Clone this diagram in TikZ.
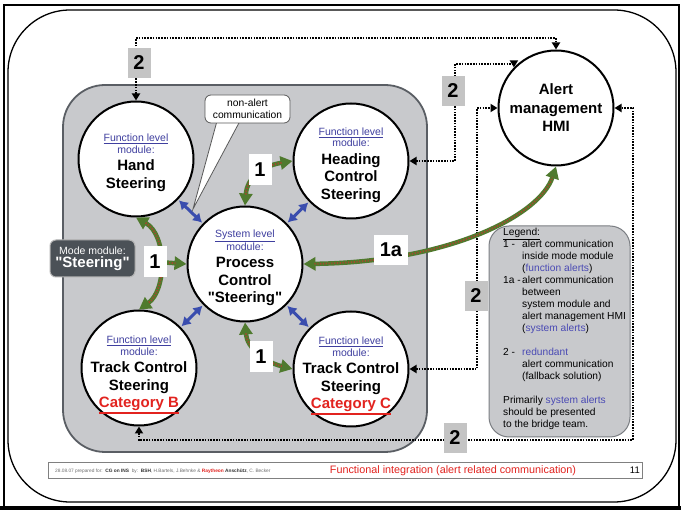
\documentclass[tikz,border=0pt]{standalone}
\usepackage{fontspec}
\setmainfont{Liberation Sans}
\newfontfamily\plainsf{Liberation Sans}
\usetikzlibrary{arrows.meta}
\definecolor{modgray}{HTML}{C8C9CC}
\definecolor{modedge}{HTML}{5A5E64}
\definecolor{boxgray}{HTML}{C4C4C4}
\definecolor{blutxt}{HTML}{3F3F9F}
\definecolor{legblu}{HTML}{4A4AB4}
\definecolor{bluarr}{HTML}{3A4DAE}
\definecolor{catred}{HTML}{E2231F}
\definecolor{grn}{HTML}{4F7A2E}
\definecolor{rdd}{HTML}{A8472C}
\definecolor{darkbox}{HTML}{4B5157}
\definecolor{footgray}{HTML}{6E6E6E}
\newcommand{\qq}{{\plainsf\char34}}
\newcommand{\catul}[1]{\leavevmode\vtop{\hbox{#1}\kern1.3pt\hrule height1.4pt}}
\newcommand{\modtxt}[3]{\begin{minipage}{104pt}\centering\fontsize{10.5}{11.5}\selectfont\color{blutxt}\underline{#1}\\module:\par\fontsize{15}{17.5}\selectfont\bfseries\color{black}#2#3\end{minipage}}
\tikzset{gt/.tip={Triangle[length=12pt,width=13pt]}}
\begin{document}
\begin{tikzpicture}[x=1pt,y=-1pt,
  mod/.style={circle,draw=black,line width=2pt,fill=white,minimum size=115pt,inner sep=0pt},
  modt/.style={inner sep=0pt,yshift=-4pt},
  gline/.style={line width=4.5pt,draw=grn,postaction={draw=rdd,line width=1.8pt,dash pattern=on 1.2pt off 1.6pt,-,shorten <=11pt,shorten >=11pt}},
  bline/.style={line width=3pt,draw=bluarr,{Latex[length=9pt,width=11pt]}-{Latex[length=9pt,width=11pt]},shorten <=1pt,shorten >=1pt},
  dline/.style={line width=1.8pt,dash pattern=on 1.5pt off 1.3pt,{Triangle[length=7pt,width=8pt]}-{Triangle[length=7pt,width=8pt]}},
  one/.style={fill=white,inner sep=0pt,minimum width=23pt,minimum height=31pt,font=\fontsize{20}{20}\selectfont\bfseries},
  two/.style={fill=boxgray,inner sep=0pt,minimum width=23pt,minimum height=30pt,font=\fontsize{20}{20}\selectfont\bfseries}
]
\useasboundingbox (0,0) rectangle (681,510);
\fill[white] (0,0) rectangle (681,510);
\draw[line width=2.4pt] (4,5) rectangle (679,507);
\fill[black] (0,506) rectangle (681,510);
\draw[line width=1.3pt,rounded corners=62pt] (8,10) rectangle (676,502);

% mode module area and legend box
\node[draw=modedge,line width=1.8pt,fill=modgray,rounded corners=42pt,minimum width=364pt,minimum height=367pt] (modrect) at (245,268.5) {};
\node[draw=modedge!80,line width=1pt,fill=modgray,rounded corners=20pt,minimum width=141pt,minimum height=211pt] (legend) at (559.5,331.5) {};
\node[draw=gray,line width=0.9pt,fill=white,minimum width=594pt,minimum height=16pt,inner sep=0pt] (footer) at (345,470) {};

% modules
\node[mod] (hand) at (136,159) {};
\node[mod] (heading) at (351,161) {};
\node[mod] (process) at (245,264) {};
\node[mod] (trackB) at (139,368) {};
\node[mod] (trackC) at (351,369) {};
\node[mod] (hmi) at (556,108) {};
\node[modt] (handtxt) at (hand) {\modtxt{Function level}{Hand\\Steering}{}};
\node[modt] (headingtxt) at (heading) {\modtxt{Function level}{Heading\\Control\\Steering}{}};
\node[modt] (processtxt) at (process) {\modtxt{System level}{Process\\Control\\\qq Steering\qq}{}};
\node[modt,yshift=-3pt] (trackBtxt) at (trackB) {\modtxt{Function level}{Track Control\\Steering}{\\\color{catred}\catul{Category B}}};
\node[modt,yshift=-3pt] (trackCtxt) at (trackC) {\modtxt{Function level}{Track Control\\Steering}{\\\color{catred}\catul{Category C}}};
\node[inner sep=0pt] (hmitxt) at (hmi) {\begin{minipage}{104pt}\centering\fontsize{15}{18.5}\selectfont\bfseries Alert\\management\\HMI\end{minipage}};

% blue non-alert links
\draw[bline] (hand) -- (process);
\draw[bline] (heading) -- (process);
\draw[bline] (trackB) -- (process);
\draw[bline] (trackC) -- (process);

% callout
\coordinate (nacl) at (217,121);
\coordinate (nacr) at (240,121);
\coordinate (nactip) at (193,209);
\filldraw[fill=white,draw=gray!70!black,line width=0.8pt] (nacl) -- (nactip) -- (nacr);
\node[draw=gray!70!black,line width=0.8pt,fill=white,rounded corners=6pt,minimum width=85pt,minimum height=28pt,inner sep=0pt,align=center,font=\fontsize{10.3}{12}\selectfont] (nac) at (247.5,109) {non-alert\\communication};

% mode module label
\node[draw=gray!60,line width=1pt,fill=darkbox,rounded corners=6pt,minimum width=85pt,minimum height=37pt,inner sep=0pt,align=center,text=white] (modelbl) at (92.5,258.5) {{\fontsize{10.5}{12}\selectfont Mode module:}\\[1pt]{\fontsize{15}{16}\selectfont\bfseries \qq Steering\qq}};

% redundant dotted links
\coordinate (d1) at (136,38);
\draw[dline] (hand.north) -- (d1) -| (hmi.north);
\coordinate (d2a) at (455,161);
\coordinate (d2b) at (455,64);
\draw[dline] (heading.east) -- (d2a) -- (d2b) -| (hmi.136);
\coordinate (d3) at (477,369);
\draw[dline] (trackC.east) -- (d3) |- (hmi.west);
\coordinate (d4) at (633,440);
\draw[dline] (trackB.south) |- (d4) |- (hmi.east);

% alert links
\coordinate (lb) at (158,262);
\draw[gline,gt-gt] (hand.south) .. controls (167,235) and (167,290) .. (trackB.north);
\draw[gline,-gt] (lb) -- (process.west);
\draw[gline,gt-gt] (process.north) .. controls (247,178) and (262,166) .. (heading.west);
\draw[gline,gt-gt] (process.south) .. controls (247,348) and (265,362) .. (trackC.west);
\draw[gline,gt-gt] (process.east) .. controls (450,262) and (540,215) .. (hmi.south);

% number labels
\node[one] (n1a) at (260,170) {1};
\node[one] (n1b) at (155,262) {1};
\node[one] (n1c) at (261,357) {1};
\node[one,minimum width=34pt,minimum height=30pt] (n1d) at (391,250) {1a};
\node[two] (n2a) at (139,63) {2};
\node[two] (n2b) at (453,91) {2};
\node[two] (n2c) at (476,296) {2};
\node[two] (n2d) at (455,438) {2};

% legend text
\node[anchor=north west,inner sep=0pt] (legtxt) at (503,228) {\begin{minipage}{128pt}\raggedright\fontsize{10.2}{12}\selectfont
\underline{Legend:}\\
\makebox[19pt][l]{1 -}alert communication\\
\hspace*{19pt}inside mode module\\
\hspace*{19pt}(\textcolor{legblu}{function alerts})\\
\makebox[19pt][l]{1a -}alert communication\\
\hspace*{19pt}between\\
\hspace*{19pt}system module and\\
\hspace*{19pt}alert management HMI\\
\hspace*{19pt}(\textcolor{legblu}{system alerts})\\[12pt]
\makebox[19pt][l]{2 -}\textcolor{legblu}{redundant}\\
\hspace*{19pt}alert communication\\
\hspace*{19pt}(fallback solution)\\[12pt]
Primarily \textcolor{legblu}{system alerts}\\
should be presented\\
to the bridge team.\end{minipage}};

% footer
\node[anchor=base west,inner sep=0pt,font=\fontsize{4.8}{6}\selectfont,text=footgray] (foot1) at (55,473) {28.08.07 prepared for:\ \ \textbf{\color{black!80}CG on INS}\ \ by:\ \ \textbf{\color{black!80}BSH}, H.Bartels, J.Behnke \& \textbf{\color{catred}Raytheon} \textbf{\color{black!80}Anschütz}, C. Becker};
\node[anchor=base,inner sep=0pt,font=\fontsize{10.8}{12}\selectfont,text=catred] (foot2) at (453,474) {Functional integration (alert related communication)};
\node[anchor=base east,inner sep=0pt,font=\fontsize{9.5}{10}\selectfont] (pg) at (640,474) {11};
\end{tikzpicture}
\end{document}
